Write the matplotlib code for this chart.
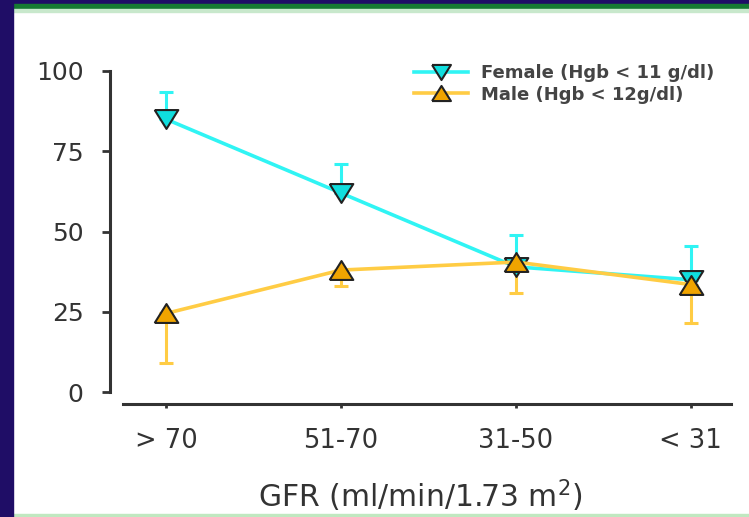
import matplotlib as mpl
mpl.use("Agg")
import matplotlib.pyplot as plt
from matplotlib.patches import Rectangle
import numpy as np

# data
groups = ["> 70", "51-70", "31-50", "< 31"]
female = [85, 62, 39, 35]
female_top = [93.5, 71, 49, 45.5]
male = [24.5, 38, 40.5, 33.5]
male_bottom = [9, 33, 31, 21.5]
yticks = [0, 25, 50, 75, 100]

W, H = 749, 517
fig = plt.figure(figsize=(W / 100, H / 100), dpi=100)
fig.patch.set_facecolor("white")
plt.rcParams["font.family"] = ["DejaVu Sans"]

# wide, flat triangles like the original slide
tri_down = [(-1.25, 1), (1.25, 1), (0, -1), (-1.25, 1)]
tri_up = [(-1.25, -1), (1.25, -1), (0, 1), (-1.25, -1)]

# axes box in pixels: left 110, right 731, top 70, bottom 404
ax = fig.add_axes([110 / W, 1 - 404 / H, (731 - 110) / W, (404 - 70) / H])
ax.set_xlim(-0.32, 3.23)
ax.set_ylim(-3.7, 100.3)

x = np.arange(len(groups))
f = np.array(female)
m = np.array(male)

ax.errorbar(x, f, yerr=[np.zeros(4), np.array(female_top) - f], fmt="none",
            ecolor="#30f4f4", elinewidth=2.2, capsize=5, capthick=2.2, zorder=2)
ax.errorbar(x, m, yerr=[m - np.array(male_bottom), np.zeros(4)], fmt="none",
            ecolor="#ffcc44", elinewidth=2.2, capsize=5, capthick=2.2, zorder=2)
ax.plot(x, f, color="#30f4f4", lw=2.6, marker=tri_down, ms=17, mfc="#10dede",
        mec="#222222", mew=1.5, zorder=3, label="Female (Hgb < 11 g/dl)")
ax.plot(x, m, color="#ffcc44", lw=2.6, marker=tri_up, ms=17, mfc="#f0a400",
        mec="#222222", mew=1.5, zorder=4, label="Male (Hgb < 12g/dl)")

for s in ["top", "right"]:
    ax.spines[s].set_visible(False)
ax.spines["left"].set_bounds(0, 100)
ax.spines["bottom"].set_bounds(-0.245, 3.23)
for s in ["left", "bottom"]:
    ax.spines[s].set_color("#333333")
    ax.spines[s].set_linewidth(2.2)

ax.set_yticks(yticks)
ax.set_xticks(x)
ax.set_xticklabels(groups)
ax.tick_params(axis="y", length=6, width=2, color="#333333", labelsize=18,
               labelcolor="#333333", pad=13)
ax.tick_params(axis="x", length=3, width=2, color="#333333", labelsize=18.5,
               labelcolor="#333333", pad=14)
ax.set_xlabel("GFR (ml/min/1.73 m$^2$)", fontsize=21.5, color="#333333", labelpad=17)

leg = ax.legend(loc="upper left", bbox_to_anchor=(405 / W, 1 - 55 / H),
                bbox_transform=fig.transFigure, frameon=False, handlelength=3.0,
                handletextpad=0.7, labelspacing=0.2, borderpad=0,
                markerscale=0.8, prop={"size": 13, "weight": "bold"})
for t in leg.get_texts():
    t.set_color("#444444")

# slide frame: navy strip left, navy and green bar on top, green line at bottom
fig.patches.append(Rectangle((0, 0), 13 / W, 1, transform=fig.transFigure,
                             color="#1f0d66", zorder=10))
fig.patches.append(Rectangle((0, 1 - 4 / H), 1, 4 / H, transform=fig.transFigure,
                             color="#1f0d66", zorder=9))
fig.patches.append(Rectangle((0, 1 - 9 / H), 1, 5 / H, transform=fig.transFigure,
                             color="#167a32", zorder=9))
fig.patches.append(Rectangle((0, 1 - 12 / H), 1, 3 / H, transform=fig.transFigure,
                             color="#c8e8cc", zorder=9))
fig.patches.append(Rectangle((0, 0), 1, 3 / H, transform=fig.transFigure,
                             color="#c0e8c0", zorder=9))

fig.savefig("out.png", dpi=100)
